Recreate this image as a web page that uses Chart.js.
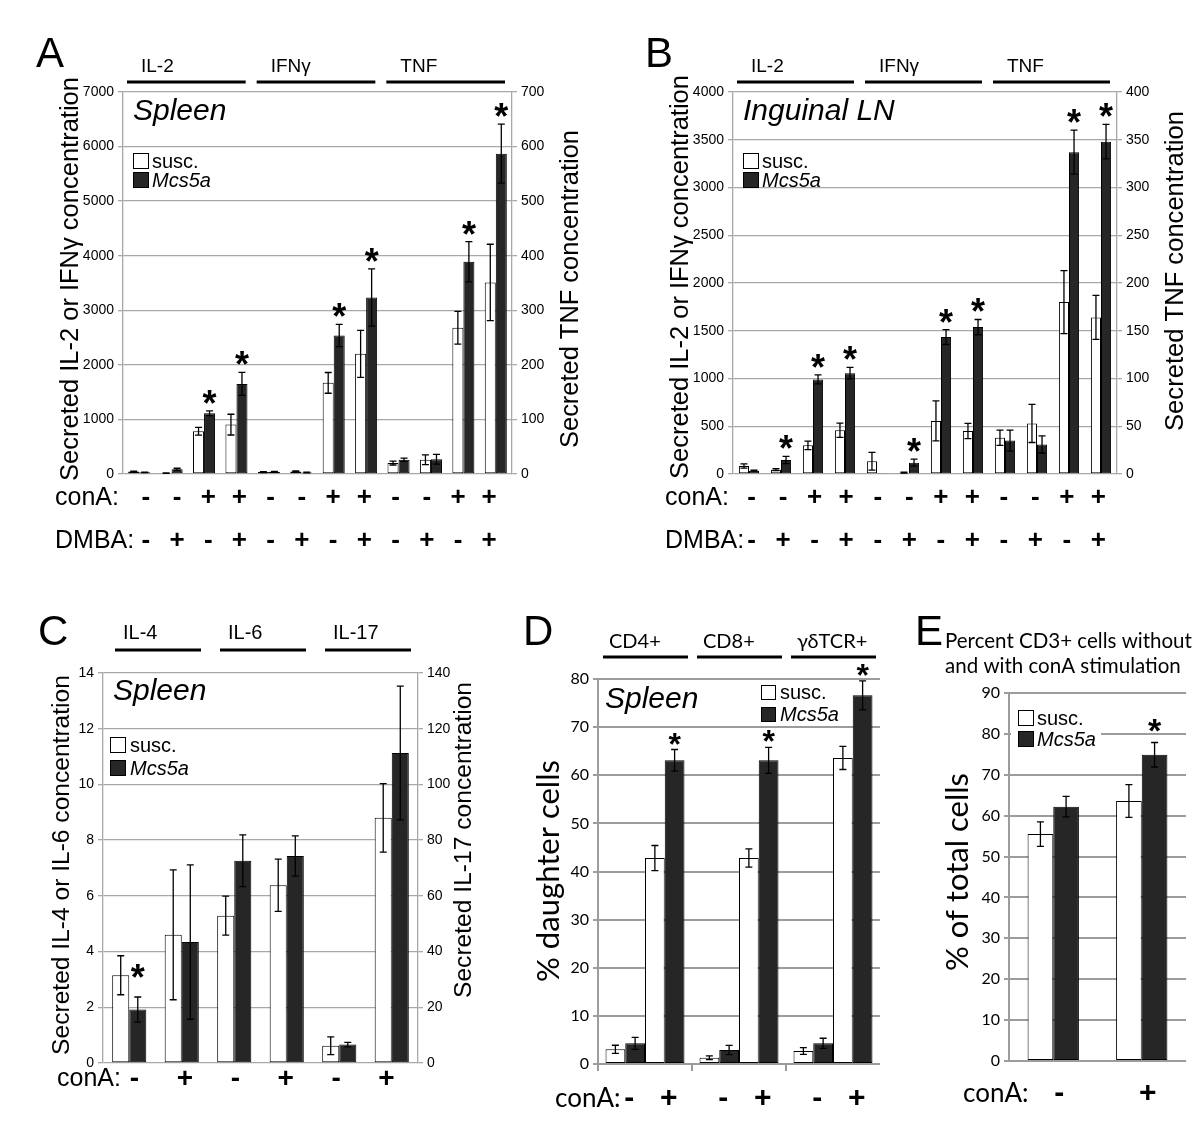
<!DOCTYPE html>
<html lang="en">
<head>
    <meta charset="UTF-8">
    <title>Cytokine secretion and proliferation: susc. vs Mcs5a</title>
    <style>
        body { margin: 0; background: #fff; }
        #wrap { position: relative; width: 1200px; height: 1142px; }
        #wrap canvas { position: absolute; left: 0; top: 0; }
    </style>
</head>
<body>
    <div id="wrap">
        <canvas id="chartA" width="1200" height="1142"></canvas>
        <canvas id="chartB" width="1200" height="1142"></canvas>
        <canvas id="chartC" width="1200" height="1142"></canvas>
        <canvas id="chartD" width="1200" height="1142"></canvas>
        <canvas id="chartE" width="1200" height="1142"></canvas>
    </div>

    <script src="https://cdn.jsdelivr.net/npm/chart.js"></script>

    <script>
        // ---- data ----
        // panels A and B: 12 conditions, the TNF ones (last 4) use the right axis
        const cytoAB = ['IL-2', 'IFNγ', 'TNF'];
        const conaAB = ['-', '-', '+', '+', '-', '-', '+', '+', '-', '-', '+', '+'];
        const dmbaAB = ['-', '+', '-', '+', '-', '+', '-', '+', '-', '+', '-', '+'];

        const aSusc    = [45, 15, 783, 905, 35, 45, 1670, 2202, 20, 26, 268, 351];
        const aSuscErr = [8, 5, 70, 190, 8, 10, 190, 430, 3.5, 9, 30, 70];
        const aMcs     = [30, 85, 1113, 1651, 40, 28, 2538, 3235, 26, 27, 389, 587];
        const aMcsErr  = [5, 20, 45, 210, 8, 6, 205, 525, 3, 9, 37, 54];
        const aStar    = [0, 0, 1, 1, 0, 0, 1, 1, 0, 0, 1, 1];

        const bSusc    = [84, 45, 300, 458, 133, 14, 556, 451, 38, 53, 180, 164];
        const bSuscErr = [23, 10, 45, 75, 93, 5, 210, 80, 8, 20, 33, 23];
        const bMcs     = [35, 147, 990, 1056, 5, 119, 1434, 1538, 35, 31, 337, 348];
        const bMcsErr  = [5, 38, 47, 60, 0, 37, 78, 80, 11, 9, 23, 18];
        const bStar    = [0, 1, 1, 1, 0, 1, 1, 1, 0, 0, 1, 1];

        // panel C: IL-4, IL-6 (left axis), IL-17 (right axis)
        const cytoC = ['IL-4', 'IL-6', 'IL-17'];
        const conaC = ['-', '+', '-', '+', '-', '+'];
        const cSusc    = [3.15, 4.6, 5.29, 6.38, 6.2, 88];
        const cSuscErr = [0.7, 2.33, 0.7, 0.94, 3.2, 12.3];
        const cMcs     = [1.92, 4.34, 7.26, 7.43, 6.6, 111.3];
        const cMcsErr  = [0.45, 2.77, 0.93, 0.72, 0.8, 24];
        const cStar    = [1, 0, 0, 0, 0, 0];

        // panel D: % daughter cells, without / with conA
        const cellsD = ['CD4+', 'CD8+', 'γδTCR+'];
        const dSuscNeg = [3.05, 1.3, 2.7],   dSuscNegErr = [0.85, 0.4, 0.7];
        const dMcsNeg  = [4.3, 2.9, 4.3],    dMcsNegErr  = [1.25, 0.95, 1.05];
        const dSuscPos = [42.8, 42.8, 63.6], dSuscPosErr = [2.6, 1.9, 2.4];
        const dMcsPos  = [63.1, 63.1, 76.6], dMcsPosErr  = [2.25, 2.7, 3];
        const dStar    = [1, 1, 1];

        // panel E: % CD3+ of total cells
        const conaE = ['-', '+'];
        const eSusc = [55.5, 63.6], eSuscErr = [3, 4];
        const eMcs  = [62.2, 74.9], eMcsErr  = [2.5, 3];
        const eStar = [0, 1];

        // ---- styling ----
        const SANS = '"Liberation Sans", Arial, sans-serif';
        const CAL = 'Lato, "Open Sans", sans-serif';
        const WHITE = '#ffffff';
        const DARK = '#262626';
        const AXIS_W = 50;

        function bar(label, data, err, star, color, stack, axis, catPct) {
            return {
                label, data, err, star, stack, yAxisID: axis,
                backgroundColor: color, borderColor: '#000', borderWidth: 1, borderSkipped: false,
                categoryPercentage: catPct, barPercentage: 1
            };
        }

        // white/black pair per category, values past `split` go on the right axis
        function pairSets(susc, suscErr, mcs, mcsErr, star, split, catPct) {
            const left = a => a.map((v, i) => (i < split ? v : null));
            const right = a => a.map((v, i) => (i >= split ? v : null));
            return [
                bar('susc.', left(susc), suscErr, null, WHITE, 's', 'y', catPct),
                bar('susc.', right(susc), suscErr, null, WHITE, 's', 'y1', catPct),
                bar('Mcs5a', left(mcs), mcsErr, star, DARK, 'm', 'y', catPct),
                bar('Mcs5a', right(mcs), mcsErr, star, DARK, 'm', 'y1', catPct)
            ];
        }

        function text(ctx, s, x, y, font, align, base) {
            ctx.save();
            ctx.font = font;
            ctx.fillStyle = '#000';
            ctx.textAlign = align || 'left';
            ctx.textBaseline = base || 'middle';
            ctx.fillText(s, x, y);
            ctx.restore();
        }

        // font size chosen so the string is `len` pixels long
        function fitFont(ctx, s, style, family, len) {
            ctx.save();
            ctx.font = style + ' 20px ' + family;
            const w = ctx.measureText(s).width;
            ctx.restore();
            return style + ' ' + (20 * len / w).toFixed(2) + 'px ' + family;
        }

        function vtitle(ctx, s, cx, cy, family, len) {
            ctx.save();
            ctx.font = fitFont(ctx, s, '', family, len);
            ctx.fillStyle = '#000';
            ctx.textAlign = 'center';
            ctx.textBaseline = 'middle';
            ctx.translate(cx, cy);
            ctx.rotate(-Math.PI / 2);
            ctx.fillText(s, 0, 0);
            ctx.restore();
        }

        function headers(ctx, chart, names, per, o) {
            const x = chart.scales.x;
            const half = (x.getPixelForValue(1) - x.getPixelForValue(0)) / 2;
            ctx.save();
            ctx.fillStyle = '#000';
            names.forEach((name, g) => {
                const x0 = x.getPixelForValue(g * per) - half;
                const x1 = x.getPixelForValue(g * per + per - 1) + half;
                ctx.fillRect(x0 + o.inL, o.lineY - 1.5, (x1 - o.inR) - (x0 + o.inL), 3);
                text(ctx, name, x0 + o.dx, o.textY, o.font, 'left', 'middle');
            });
            ctx.restore();
        }

        function legend(ctx, o) {
            ctx.save();
            if (o.bg) {
                ctx.fillStyle = '#fff';
                ctx.fillRect(o.bg[0], o.bg[1], o.bg[2], o.bg[3]);
            }
            [[WHITE, 'susc.', ''], [DARK, 'Mcs5a', 'italic']].forEach(([c, s, st], k) => {
                const by = k ? o.y2 : o.y1;
                ctx.fillStyle = c;
                ctx.fillRect(o.x, by, o.box, o.box);
                ctx.strokeStyle = '#000';
                ctx.lineWidth = 1;
                ctx.strokeRect(o.x + 0.5, by + 0.5, o.box - 1, o.box - 1);
                text(ctx, s, o.tx, by + o.box / 2 + 1, st + ' ' + o.size + 'px ' + SANS, 'left', 'middle');
            });
            ctx.restore();
        }

        function catCenters(chart, squeeze, dx) {
            const x = chart.scales.x, a = chart.chartArea, mid = (a.left + a.right) / 2;
            return chart.data.labels.map((_, i) => mid + (x.getPixelForValue(i) - mid) * squeeze + (dx || 0));
        }

        function signRow(ctx, xs, signs, y, font) {
            signs.forEach((s, i) => text(ctx, s, xs[i], y, font, 'center', 'middle'));
        }

        function errorBars(starFont, starGap) {
            return {
                id: 'errorBars',
                afterDatasetsDraw(chart) {
                    const ctx = chart.ctx;
                    ctx.save();
                    chart.data.datasets.forEach((ds, di) => {
                        const meta = chart.getDatasetMeta(di);
                        const sc = chart.scales[ds.yAxisID];
                        meta.data.forEach((el, i) => {
                            const v = ds.data[i];
                            if (v === null || v === undefined) return;
                            const e = ds.err[i] || 0;
                            const top = sc.getPixelForValue(v + e);
                            if (e > 0) {
                                const bot = sc.getPixelForValue(v - e);
                                ctx.strokeStyle = '#000';
                                ctx.lineWidth = 1.3;
                                ctx.beginPath();
                                ctx.moveTo(el.x, top); ctx.lineTo(el.x, bot);
                                ctx.moveTo(el.x - 3.5, top); ctx.lineTo(el.x + 3.5, top);
                                ctx.moveTo(el.x - 3.5, bot); ctx.lineTo(el.x + 3.5, bot);
                                ctx.stroke();
                            }
                            if (ds.star && ds.star[i]) {
                                ctx.font = starFont;
                                ctx.fillStyle = '#000';
                                ctx.textAlign = 'center';
                                ctx.textBaseline = 'alphabetic';
                                const m = ctx.measureText('*');
                                ctx.fillText('*', el.x, top - starGap - m.actualBoundingBoxDescent);
                            }
                        });
                    });
                    ctx.restore();
                }
            };
        }

        function yAxis(pos, max, step, font, gridColor, gridWidth) {
            return {
                position: pos, min: 0, max: max, stacked: false,
                ticks: { stepSize: step, color: '#000', font: font, padding: 4, callback: v => String(v) },
                grid: { color: gridColor, tickColor: gridColor, lineWidth: gridWidth, tickLength: 5, drawOnChartArea: pos === 'left' },
                border: { color: gridColor, width: gridWidth },
                afterFit: s => { s.width = AXIS_W; }
            };
        }

        function makeChart(id, labels, datasets, rect, axes, star, draw) {
            const scales = { x: { display: false } };
            scales.y = yAxis('left', axes[0].max, axes[0].step, axes[0].font, axes[0].grid, axes[0].gw);
            if (axes[1]) scales.y1 = yAxis('right', axes[1].max, axes[1].step, axes[1].font, axes[1].grid, axes[1].gw);
            return new Chart(document.getElementById(id), {
                type: 'bar',
                data: { labels, datasets },
                options: {
                    responsive: false, animation: false, devicePixelRatio: 1, events: [],
                    layout: {
                        padding: {
                            left: rect.l - AXIS_W, top: rect.t,
                            right: 1200 - rect.r - (axes[1] ? AXIS_W : 0), bottom: 1142 - rect.b
                        }
                    },
                    scales,
                    plugins: { legend: { display: false }, tooltip: { enabled: false } }
                },
                plugins: [errorBars(star.font, star.gap), { id: 'deco', afterDraw: draw }]
            });
        }

        const tickABC = { family: SANS, size: 14 };
        const tickDE = { family: CAL, size: 16 };
        const GRID_ABC = '#a8a8a8';
        const GRID_DE = '#9c9c9c';

        // ---- panel A ----
        const labelsAB = conaAB.map((c, i) => cytoAB[Math.floor(i / 4)] + ' conA' + c + ' DMBA' + dmbaAB[i]);

        function drawAB(letter, place, lx, leftLen, leftY, rightX, rightLen, rightY, squeeze) {
            return chart => {
                const ctx = chart.ctx, a = chart.chartArea;
                text(ctx, letter, lx, 67, '42px ' + SANS, 'left', 'alphabetic');
                headers(ctx, chart, cytoAB, 4, { inL: 4, inR: 7, dx: 18, lineY: 82, textY: 67, font: '19px ' + SANS });
                text(ctx, place, a.left + 10, 112, 'italic 30px ' + SANS, 'left', 'middle');
                legend(ctx, { x: a.left + 10, y1: a.top + 61, y2: a.top + 80, box: 16, tx: a.left + 29, size: 20 });
                vtitle(ctx, 'Secreted IL-2 or IFNγ concentration', a.left - 52, leftY, SANS, leftLen);
                vtitle(ctx, 'Secreted TNF concentration', rightX, rightY, SANS, rightLen);
                const xs = catCenters(chart, squeeze);
                text(ctx, 'conA:', a.left - 68, 498, '25px ' + SANS, 'left', 'middle');
                signRow(ctx, xs, conaAB, 498, 'bold 26px ' + SANS);
                text(ctx, 'DMBA:', a.left - 68, 541, '25px ' + SANS, 'left', 'middle');
                signRow(ctx, xs, dmbaAB, 541, 'bold 26px ' + SANS);
            };
        }

        makeChart('chartA', labelsAB, pairSets(aSusc, aSuscErr, aMcs, aMcsErr, aStar, 8, 0.68),
            { l: 123, t: 92, r: 512, b: 474 },
            [{ max: 7000, step: 1000, font: tickABC, grid: GRID_ABC, gw: 1.3 },
             { max: 700, step: 100, font: tickABC, grid: GRID_ABC, gw: 1.3 }],
            { font: 'bold 36px ' + SANS, gap: 7 },
            drawAB('A', 'Spleen', 36, 404, 279, 571, 318, 289, 0.963));

        // ---- panel B ----
        makeChart('chartB', labelsAB, pairSets(bSusc, bSuscErr, bMcs, bMcsErr, bStar, 8, 0.63),
            { l: 733, t: 92, r: 1117, b: 474 },
            [{ max: 4000, step: 500, font: tickABC, grid: GRID_ABC, gw: 1.3 },
             { max: 400, step: 50, font: tickABC, grid: GRID_ABC, gw: 1.3 }],
            { font: 'bold 36px ' + SANS, gap: 7 },
            drawAB('B', 'Inguinal LN', 645, 404, 277, 1176, 320, 271, 0.985));

        // ---- panel C ----
        const labelsC = conaC.map((c, i) => cytoC[Math.floor(i / 2)] + ' conA' + c);
        makeChart('chartC', labelsC, pairSets(cSusc, cSuscErr, cMcs, cMcsErr, cStar, 4, 0.65),
            { l: 103, t: 673, r: 418, b: 1063 },
            [{ max: 14, step: 2, font: tickABC, grid: GRID_ABC, gw: 1.3 },
             { max: 140, step: 20, font: tickABC, grid: GRID_ABC, gw: 1.3 }],
            { font: 'bold 36px ' + SANS, gap: 19 },
            chart => {
                const ctx = chart.ctx, a = chart.chartArea;
                text(ctx, 'C', 38, 645, '42px ' + SANS, 'left', 'alphabetic');
                headers(ctx, chart, cytoC, 2, { inL: 12, inR: 7, dx: 20, lineY: 650, textY: 633, font: '20px ' + SANS });
                text(ctx, 'Spleen', a.left + 10, 692, 'italic 30px ' + SANS, 'left', 'middle');
                legend(ctx, { x: 110, y1: 737, y2: 760, box: 16, tx: 130, size: 20 });
                vtitle(ctx, 'Secreted IL-4 or IL-6 concentration', 62, 865, SANS, 380);
                vtitle(ctx, 'Secreted IL-17 concentration', 464, 840, SANS, 316);
                text(ctx, 'conA:', 57, 1079, '25px ' + SANS, 'left', 'middle');
                signRow(ctx, catCenters(chart, 0.96), conaC, 1079, 'bold 28px ' + SANS);
            });

        // ---- panel D ----
        makeChart('chartD', cellsD, [
                bar('susc. conA-', dSuscNeg, dSuscNegErr, null, WHITE, undefined, 'y', 0.84),
                bar('Mcs5a conA-', dMcsNeg, dMcsNegErr, null, DARK, undefined, 'y', 0.84),
                bar('susc. conA+', dSuscPos, dSuscPosErr, null, WHITE, undefined, 'y', 0.84),
                bar('Mcs5a conA+', dMcsPos, dMcsPosErr, dStar, DARK, undefined, 'y', 0.84)
            ],
            { l: 598, t: 679, r: 880, b: 1064 },
            [{ max: 80, step: 10, font: tickDE, grid: GRID_DE, gw: 2 }],
            { font: 'bold 32px ' + SANS, gap: 5 },
            chart => {
                const ctx = chart.ctx, a = chart.chartArea, x = chart.scales.x;
                text(ctx, 'D', 523, 645, '42px ' + SANS, 'left', 'alphabetic');
                headers(ctx, chart, cellsD, 1, { inL: 5, inR: 4, dx: 11, lineY: 657, textY: 642, font: '20px ' + CAL });
                text(ctx, 'Spleen', a.left + 7, 700, 'italic 30px ' + SANS, 'left', 'middle');
                legend(ctx, { x: 761, y1: 685, y2: 707, box: 15, tx: 780, size: 20 });
                vtitle(ctx, '% daughter cells', 549, 871, CAL, 222);
                // category tick marks under the axis
                const half = (x.getPixelForValue(1) - x.getPixelForValue(0)) / 2;
                ctx.save();
                ctx.strokeStyle = GRID_DE;
                ctx.lineWidth = 2;
                ctx.beginPath();
                cellsD.forEach((_, i) => {
                    const bx = x.getPixelForValue(i) - half;
                    ctx.moveTo(bx, a.bottom); ctx.lineTo(bx, a.bottom + 7);
                });
                ctx.stroke();
                ctx.restore();
                // conA signs under each white/black pair
                const m = [0, 1, 2, 3].map(k => chart.getDatasetMeta(k));
                const xs = [], signs = [];
                cellsD.forEach((_, i) => {
                    xs.push((m[0].data[i].x + m[1].data[i].x) / 2, (m[2].data[i].x + m[3].data[i].x) / 2);
                    signs.push('-', '+');
                });
                text(ctx, 'conA:', 555, 1099, '26px ' + CAL, 'left', 'middle');
                signRow(ctx, xs.map(v => v + 4), signs, 1099, 'bold 30px ' + SANS);
            });

        // ---- panel E ----
        makeChart('chartE', conaE, [
                bar('susc.', eSusc, eSuscErr, null, WHITE, undefined, 'y', 0.58),
                bar('Mcs5a', eMcs, eMcsErr, eStar, DARK, undefined, 'y', 0.58)
            ],
            { l: 1009, t: 693, r: 1186, b: 1061 },
            [{ max: 90, step: 10, font: tickDE, grid: GRID_DE, gw: 2 }],
            { font: 'bold 34px ' + SANS, gap: 10 },
            chart => {
                const ctx = chart.ctx;
                text(ctx, 'E', 915, 645, '42px ' + SANS, 'left', 'alphabetic');
                const hf = fitFont(ctx, 'Percent CD3+ cells without', '', CAL, 247);
                text(ctx, 'Percent CD3+ cells without', 945, 641, hf, 'left', 'middle');
                text(ctx, 'and with conA stimulation', 945, 666, hf, 'left', 'middle');
                legend(ctx, { x: 1018, y1: 710, y2: 731, box: 16, tx: 1037, size: 20, bg: [1011, 704, 90, 48] });
                vtitle(ctx, '% of total cells', 958, 872, CAL, 198);
                text(ctx, 'conA:', 963, 1094, '26px ' + CAL, 'left', 'middle');
                signRow(ctx, catCenters(chart, 1, 6), conaE, 1094, 'bold 30px ' + SANS);
            });
    </script>
</body>
</html>
